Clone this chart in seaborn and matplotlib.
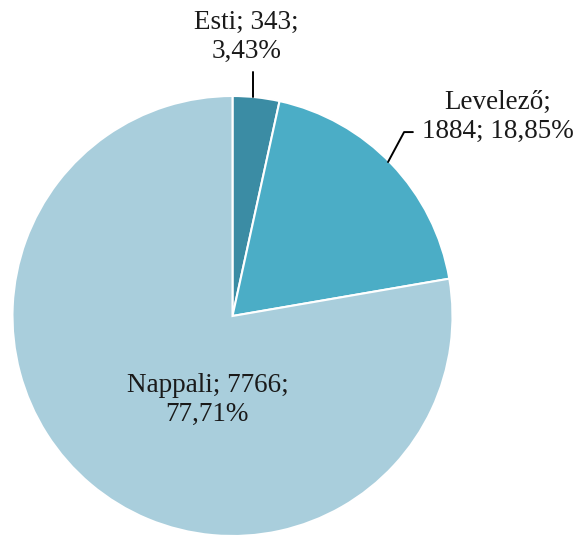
"""
Kördiagram: hallgatók megoszlása tagozat szerint
"""
import matplotlib
matplotlib.use('Agg')
import matplotlib.pyplot as plt
import seaborn as sns

# Adatok
categories = ['Esti', 'Levelező', 'Nappali']
counts = [343, 1884, 7766]
percents = ['3,43%', '18,85%', '77,71%']
colors = ['#3B8CA4', '#4BADC6', '#A9CEDC']

sns.set_theme(style='white')
plt.rcParams['font.family'] = ['Liberation Serif', 'DejaVu Serif']

W, H = 579, 535
R = 220.0          # pie radius in px
CX, CY = 232.5, 316.0  # pie centre in px (from top-left)

fig = plt.figure(figsize=(W / 100, H / 100), dpi=100)
ax = fig.add_axes([0, 0, 1, 1])
ax.pie(counts, colors=colors, startangle=90, counterclock=False,
       radius=1.0, center=(0, 0),
       wedgeprops=dict(edgecolor='white', linewidth=1.5))
ax.set_xlim(-CX / R, (W - CX) / R)
ax.set_ylim(-(H - CY) / R, CY / R)
ax.set_aspect('equal')
ax.axis('off')

fs = 19.5
txt = dict(ha='center', va='center', fontsize=fs, color='#1a1a1a', linespacing=1.2)

# Esti
ax.text(0.063, 1.268, f'{categories[0]}; {counts[0]};\n{percents[0]}', **txt)
ax.plot([0.093, 0.093], [1.11, 0.995], color='black', lw=1.4)

# Levelező
ax.text(1.205, 0.905, f'{categories[1]};\n{counts[1]}; {percents[1]}', **txt)
ax.plot([0.707, 0.78, 0.82], [0.70, 0.836, 0.836], color='black', lw=1.4)

# Nappali
ax.text(-0.114, -0.38, f'{categories[2]}; {counts[2]};\n{percents[2]}', **txt)

fig.savefig('out.png', dpi=100)
